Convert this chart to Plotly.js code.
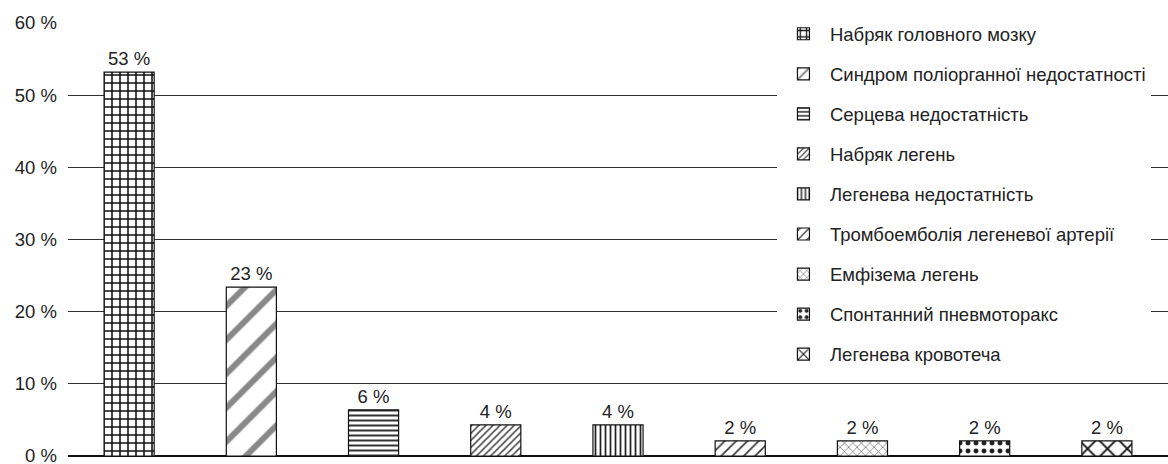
<!DOCTYPE html>
<html>
<head>
<meta charset="utf-8">
<script src="https://cdn.plot.ly/plotly-3.0.1.min.js"></script>
<style>html,body{margin:0;padding:0;background:#fff;}#chart{width:1168px;height:464px;}</style>
</head>
<body>
<div id="chart"></div>
<script>
const categories = [
  'Набряк головного мозку',
  'Синдром поліорганної недостатності',
  'Серцева недостатність',
  'Набряк легень',
  'Легенева недостатність',
  'Тромбоемболія легеневої артерії',
  'Емфізема легень',
  'Спонтанний пневмоторакс',
  'Легенева кровотеча'
];
const values = [53.2, 23.4, 6.4, 4.3, 4.3, 2.1, 2.1, 2.1, 2.1];
const labels = ['53 %', '23 %', '6 %', '4 %', '4 %', '2 %', '2 %', '2 %', '2 %'];
const yTickVals = [0, 10, 20, 30, 40, 50, 60];
const yTickText = ['0 %', '10 %', '20 %', '30 %', '40 %', '50 %', '60 %'];

const patterns = [
  {shape: '+', size: 8, solidity: 0.35, fgcolor: '#111'},
  {shape: '/', size: 24, solidity: 0.25, fgcolor: '#888'},
  {shape: '-', size: 5, solidity: 0.4, fgcolor: '#333'},
  {shape: '/', size: 5, solidity: 0.3, fgcolor: '#444'},
  {shape: '|', size: 5, solidity: 0.35, fgcolor: '#222'},
  {shape: '/', size: 8, solidity: 0.2, fgcolor: '#333'},
  {shape: 'x', size: 6, solidity: 0.2, fgcolor: '#555'},
  {shape: '.', size: 8, solidity: 0.3, fgcolor: '#222'},
  {shape: 'x', size: 14, solidity: 0.25, fgcolor: '#111'}
];

const FONT = '"Liberation Sans", Arial, sans-serif';
const FS = 18.5;
const traces = categories.map((c, i) => ({
  type: 'bar',
  name: c,
  legendgroup: 'g' + i,
  x: [c],
  y: [values[i]],
  text: [labels[i]],
  textposition: 'outside',
  cliponaxis: false,
  textfont: {family: FONT, size: FS, color: '#222'},
  width: 0.41,
  marker: {
    color: '#ffffff',
    line: {color: '#111', width: 1.2},
    pattern: Object.assign({fillmode: 'replace', bgcolor: '#ffffff'}, patterns[i])
  },
  hoverinfo: 'skip'
}));

const layout = {
  width: 1168,
  height: 464,
  margin: {l: 68, r: 0, t: 23, b: 8},
  paper_bgcolor: '#ffffff',
  plot_bgcolor: '#ffffff',
  barmode: 'overlay',
  showlegend: true,
  font: {family: FONT, size: FS, color: '#222'},
  xaxis: {
    type: 'category',
    showticklabels: false,
    showgrid: false,
    zeroline: false,
    showline: false,
    ticks: ''
  },
  yaxis: {
    range: [0, 60],
    tickvals: yTickVals,
    ticktext: yTickText,
    showgrid: true,
    gridcolor: '#333',
    gridwidth: 1.3,
    zeroline: true,
    zerolinecolor: '#111',
    zerolinewidth: 1.5,
    showline: false,
    ticks: '',
    ticklabelstandoff: 10,
    ticklabeloverflow: 'allow',
    tickfont: {family: FONT, size: FS, color: '#222'}
  },
  legend: {
    x: 0.6445,
    y: 1.018,
    xanchor: 'left',
    yanchor: 'top',
    bgcolor: '#ffffff',
    borderwidth: 0,
    traceorder: 'grouped',
    tracegroupgap: 13,
    itemwidth: 43,
    maxheight: 464,
    font: {family: FONT, size: FS, color: '#222'}
  }
};

Plotly.newPlot('chart', traces, layout, {displayModeBar: false, staticPlot: true});
</script>
</body>
</html>
